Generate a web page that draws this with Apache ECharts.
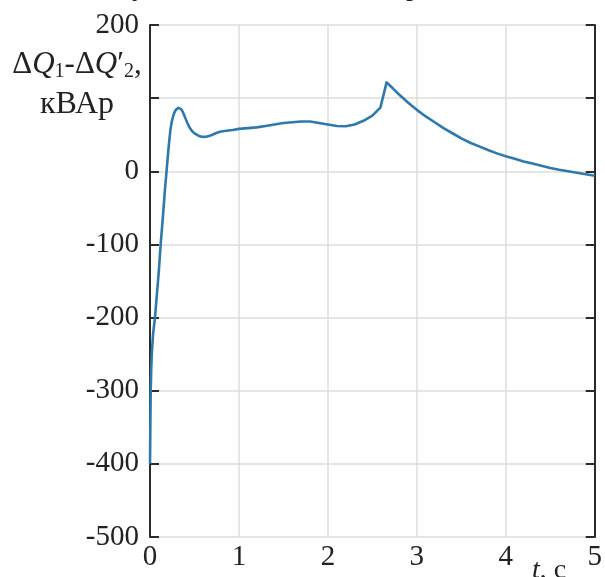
<!DOCTYPE html>
<html>
<head>
<meta charset="utf-8">
<title>dQ chart</title>
<script src="https://cdn.jsdelivr.net/npm/echarts@6/dist/echarts.min.js"></script>
<style>
  html, body { margin: 0; padding: 0; background: #fff; }
  #chart { width: 605px; height: 577px; }
</style>
</head>
<body>
<div id="chart"></div>
<script>
// время, с
var tValues = [0, 0.003, 0.008, 0.014, 0.02, 0.035, 0.056, 0.08, 0.1, 0.12, 0.145, 0.168,
  0.186, 0.2, 0.215, 0.23, 0.245, 0.26, 0.275, 0.29, 0.305, 0.32, 0.335, 0.35, 0.365,
  0.38, 0.4, 0.42, 0.44, 0.46, 0.48, 0.51, 0.54, 0.57, 0.6, 0.64, 0.68, 0.72, 0.76,
  0.8, 0.86, 0.93, 1.0, 1.1, 1.2, 1.3, 1.4, 1.5, 1.6, 1.7, 1.8, 1.9, 2.0, 2.1, 2.2,
  2.3, 2.4, 2.5, 2.59, 2.66, 2.7, 2.75, 2.8, 2.85, 2.9, 2.95, 3.0, 3.1, 3.2, 3.3,
  3.4, 3.5, 3.6, 3.7, 3.8, 3.9, 4.0, 4.1, 4.2, 4.3, 4.4, 4.5, 4.6, 4.7, 4.8, 4.9, 5.0]
// dQ1 - dQ'2, кВАр
var dqValues = [-400, -360, -300, -270, -250, -222, -200, -165, -135, -100, -62, -25,
  0, 20, 40, 57, 68, 75, 80.5, 84, 86, 86.8, 86.5, 85, 82,
  78, 72, 66, 61, 57, 54, 51, 49, 47.5, 47, 47.5, 49, 51, 53,
  54.5, 55.5, 56.5, 58, 59, 60, 62, 64, 66, 67, 68, 68, 66, 64, 62, 61.5,
  64, 69, 76, 87, 121.5, 117, 111, 105, 99.5, 94, 89, 84, 75, 67, 59,
  52, 45, 39, 34, 29, 24.5, 20.5, 17, 13.5, 10.5, 7.5, 4.5, 2, 0, -2, -4, -6]
var xTicks = [0, 1, 2, 3, 4, 5]
var yTicks = [-500, -400, -300, -200, -100, 0, 100, 200]

var serif = 'Liberation Serif'
var textColor = '#222'
var gridColor = '#dcdcdc'
var axisColor = '#2b2b2b'

var points = tValues.map(function(t, i) { return [t, dqValues[i]] })

var chart = echarts.init(document.getElementById('chart'), null, { renderer: 'canvas' })

var yAxisBase = {
  type: 'value',
  min: yTicks[0],
  max: yTicks[yTicks.length - 1],
  interval: 100,
  axisLine: { show: true, lineStyle: { color: axisColor, width: 2 } },
  axisTick: { show: true, inside: true, length: 9, lineStyle: { color: axisColor, width: 2 } }
}

chart.setOption({
  animation: false,
  grid: { left: 150, right: 8, top: 25, bottom: 40, containLabel: false },
  xAxis: {
    type: 'value',
    min: xTicks[0],
    max: xTicks[xTicks.length - 1],
    interval: 1,
    axisLine: { show: false },
    axisTick: { show: false },
    axisLabel: { color: textColor, fontFamily: serif, fontSize: 29, margin: 6 },
    splitLine: { show: true, lineStyle: { color: gridColor, width: 1.5 } }
  },
  yAxis: [
    Object.assign({}, yAxisBase, {
      position: 'left',
      axisLabel: {
        color: textColor, fontFamily: serif, fontSize: 29, margin: 11,
        // на месте 100 стоит подпись оси
        formatter: function(v) { return v === 100 ? '' : String(v) }
      },
      splitLine: { show: true, lineStyle: { color: gridColor, width: 1.5 } }
    }),
    Object.assign({}, yAxisBase, {
      position: 'right',
      axisLabel: { show: false },
      splitLine: { show: false }
    })
  ],
  series: [{
    type: 'line',
    data: points,
    showSymbol: false,
    smooth: false,
    lineStyle: { color: '#2f78aa', width: 2.6, join: 'round' }
  }],
  graphic: [
    {
      // подпись оси Y
      type: 'text',
      x: 77,
      y: 45,
      style: {
        text: '{d|Δ}{q|Q}{s|1}{d|-Δ}{q|Q}{d|′}{s|2}{d|,}\n{u|кВАр}',
        textAlign: 'center',
        verticalAlign: 'top',
        fill: textColor,
        rich: {
          d: { fontFamily: serif, fontSize: 31, lineHeight: 40, fill: textColor },
          q: { fontFamily: serif, fontSize: 31, fontStyle: 'italic', lineHeight: 40, fill: textColor },
          s: { fontFamily: serif, fontSize: 20, lineHeight: 40, verticalAlign: 'bottom', padding: [0, 0, 3, 0], fill: textColor },
          u: { fontFamily: serif, fontSize: 32, lineHeight: 40, fill: textColor }
        }
      }
    },
    {
      // подпись оси X
      type: 'text',
      x: 532,
      y: 571,
      style: {
        text: '{i|t}{n|, c}',
        verticalAlign: 'middle',
        fill: textColor,
        rich: {
          i: { fontFamily: serif, fontSize: 28, fontStyle: 'italic', fill: textColor },
          n: { fontFamily: serif, fontSize: 28, fill: textColor }
        }
      }
    },
    // обрезанная строка текста над рисунком
    { type: 'text', x: 139, y: -12, style: { text: 'у', fontFamily: serif, fontSize: 28, textAlign: 'center', verticalAlign: 'middle', fill: textColor } },
    { type: 'text', x: 413, y: -12, style: { text: 'р', fontFamily: serif, fontSize: 28, textAlign: 'center', verticalAlign: 'middle', fill: textColor } }
  ]
})
</script>
</body>
</html>
